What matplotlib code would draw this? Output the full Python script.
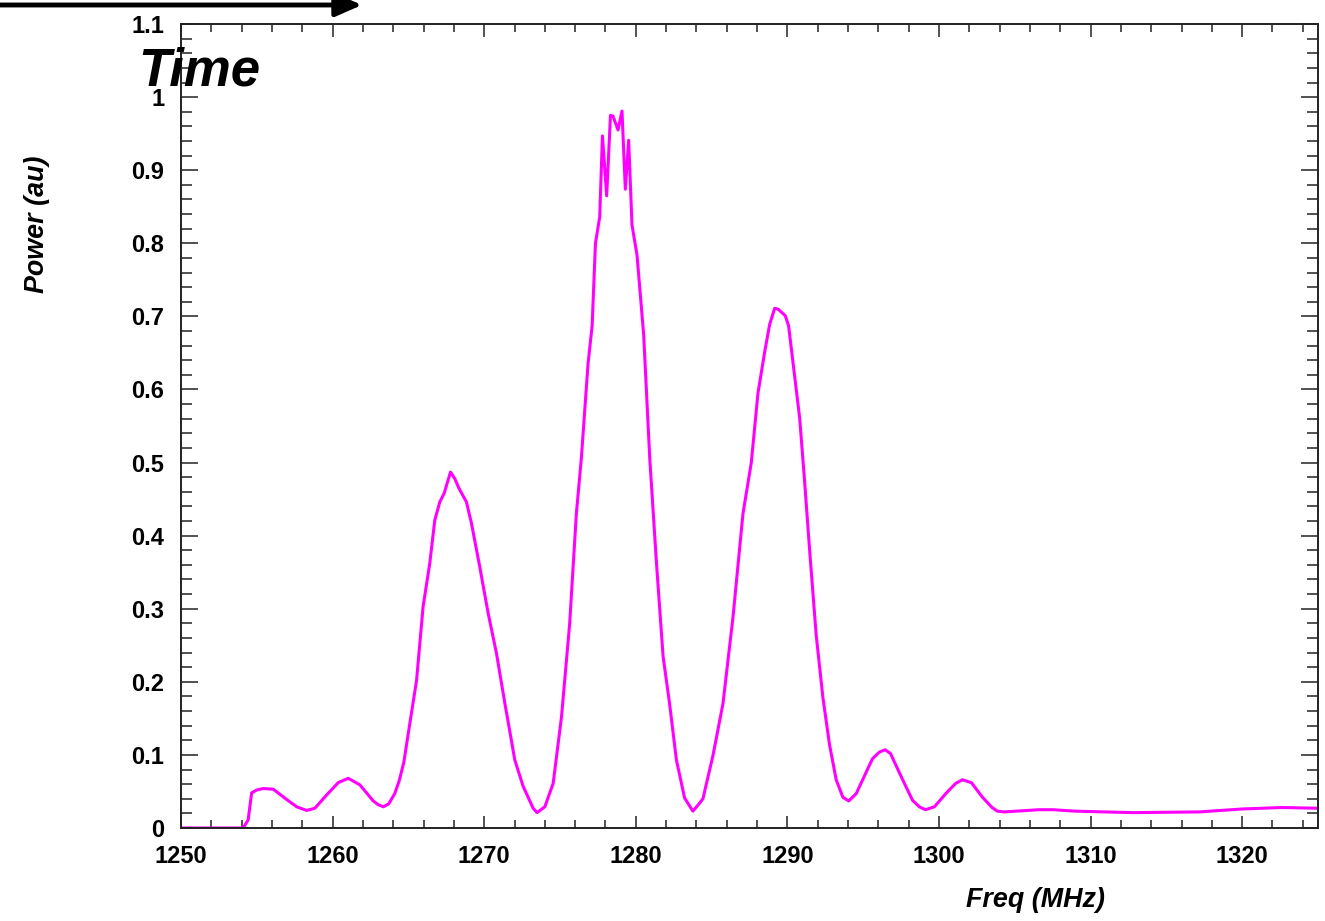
import matplotlib
matplotlib.use("Agg")
import matplotlib.pyplot as plt
from matplotlib.ticker import MultipleLocator, FormatStrFormatter

plt.rcParams['font.family'] = ['Liberation Sans', 'DejaVu Sans']

# spectrum read out of the scope trace
freq = [1250.0, 1254.1, 1254.43, 1254.66, 1255.0, 1255.43, 1256.09, 1256.97,
        1257.63, 1258.29, 1258.83, 1259.6, 1260.37, 1261.03, 1261.8, 1262.68,
        1263.0, 1263.35, 1263.7, 1264.1, 1264.4, 1264.7, 1265.2, 1265.54,
        1265.97, 1266.41, 1266.74, 1267.07, 1267.36, 1267.78, 1268.06, 1268.33,
        1268.83, 1269.16, 1269.71, 1270.26, 1270.81, 1271.36, 1272.02, 1272.57,
        1273.23, 1273.49, 1274.0, 1274.55, 1275.1, 1275.64, 1276.08, 1276.41,
        1276.85, 1277.12, 1277.34, 1277.62, 1277.8, 1278.08, 1278.33, 1278.5,
        1278.83, 1279.09, 1279.31, 1279.53, 1279.75, 1280.08, 1280.52, 1280.92,
        1281.36, 1281.8, 1282.23, 1282.68, 1283.22, 1283.77, 1284.21, 1284.43,
        1285.09, 1285.75, 1286.41, 1287.07, 1287.62, 1288.06, 1288.5, 1288.83,
        1289.16, 1289.38, 1289.86, 1290.08, 1290.48, 1290.81, 1291.13, 1291.46,
        1291.9, 1292.34, 1292.78, 1293.22, 1293.66, 1294.05, 1294.54, 1295.1,
        1295.62, 1296.08, 1296.45, 1296.8, 1297.4, 1298.25, 1298.7, 1299.11,
        1299.7, 1300.49, 1301.1, 1301.55, 1302.14, 1302.87, 1303.5, 1303.86,
        1304.3, 1306.62, 1307.5, 1309.0, 1312.8, 1317.2, 1320.0, 1322.6, 1325.0]
power = [0.000, 0.000, 0.011, 0.048, 0.052, 0.054, 0.053, 0.039,
         0.029, 0.024, 0.027, 0.045, 0.062, 0.068, 0.059, 0.037,
         0.032, 0.029, 0.033, 0.047, 0.065, 0.090, 0.157, 0.202,
         0.303, 0.362, 0.421, 0.446, 0.458, 0.487, 0.478, 0.465,
         0.446, 0.417, 0.357, 0.294, 0.239, 0.171, 0.093, 0.057,
         0.027, 0.021, 0.029, 0.061, 0.152, 0.280, 0.430, 0.506,
         0.635, 0.687, 0.800, 0.836, 0.947, 0.865, 0.975, 0.974,
         0.955, 0.981, 0.874, 0.941, 0.825, 0.784, 0.675, 0.506,
         0.364, 0.235, 0.170, 0.093, 0.041, 0.023, 0.034, 0.040,
         0.099, 0.170, 0.288, 0.430, 0.500, 0.595, 0.651, 0.689,
         0.711, 0.710, 0.701, 0.687, 0.618, 0.561, 0.476, 0.382,
         0.264, 0.179, 0.114, 0.066, 0.042, 0.037, 0.047, 0.072,
         0.095, 0.104, 0.107, 0.102, 0.075, 0.038, 0.029, 0.025,
         0.029, 0.048, 0.061, 0.066, 0.062, 0.042, 0.028, 0.023,
         0.022, 0.025, 0.025, 0.023, 0.021, 0.022, 0.026, 0.028, 0.027]

fig = plt.figure(figsize=(13.25, 9.21), dpi=100)
ax = fig.add_axes([0.1366, 0.1010, 0.8581, 0.8729])

ax.plot(freq, power, color='#ff00ff', lw=2.2)

ax.set_xlim(1250, 1325)
ax.set_ylim(0, 1.1)
ax.xaxis.set_major_locator(MultipleLocator(10))
ax.xaxis.set_minor_locator(MultipleLocator(2))
ax.yaxis.set_major_locator(MultipleLocator(0.1))
ax.yaxis.set_minor_locator(MultipleLocator(0.02))
ax.yaxis.set_major_formatter(FormatStrFormatter('%g'))

ax.tick_params(which='both', direction='in', top=True, right=True,
               width=1.1, color='#222222')
ax.tick_params(axis='x', which='major', length=9, pad=12)
ax.tick_params(axis='x', which='minor', length=5.8)
ax.tick_params(axis='y', which='major', length=12.2, pad=12)
ax.tick_params(axis='y', which='minor', length=7.9)
for lab in ax.get_xticklabels() + ax.get_yticklabels():
    lab.set_fontsize(17)
    lab.set_fontweight('bold')
for sp in ax.spines.values():
    sp.set_linewidth(1.4)
    sp.set_color('#222222')

# ROOT-style axis titles, pinned to the high end of each axis
ax.set_xlabel('Freq (MHz)', fontsize=19.4, fontweight='bold', style='italic')
ax.xaxis.set_label_coords(1.0 - 213 / 1137, -0.073)
ax.xaxis.label.set_horizontalalignment('right')
ax.set_ylabel('Power (au)', fontsize=19.4, fontweight='bold', style='italic')
ax.yaxis.set_label_coords(-0.115, 1.0 - 131 / 804)
ax.yaxis.label.set_horizontalalignment('right')

fig.text(138 / 1325, 1 - 85 / 921, 'Time', fontsize=38, fontweight='bold',
         style='italic', ha='left', va='baseline')
ax.annotate('', xy=(362 / 1325, 1 - 5 / 921), xytext=(0, 1 - 5 / 921),
            xycoords='figure fraction', textcoords='figure fraction',
            arrowprops=dict(arrowstyle='-|>,head_length=1.6,head_width=0.7',
                            lw=3.5, color='black', shrinkA=0, shrinkB=0),
            annotation_clip=False)

fig.savefig('out.png', dpi=100)
